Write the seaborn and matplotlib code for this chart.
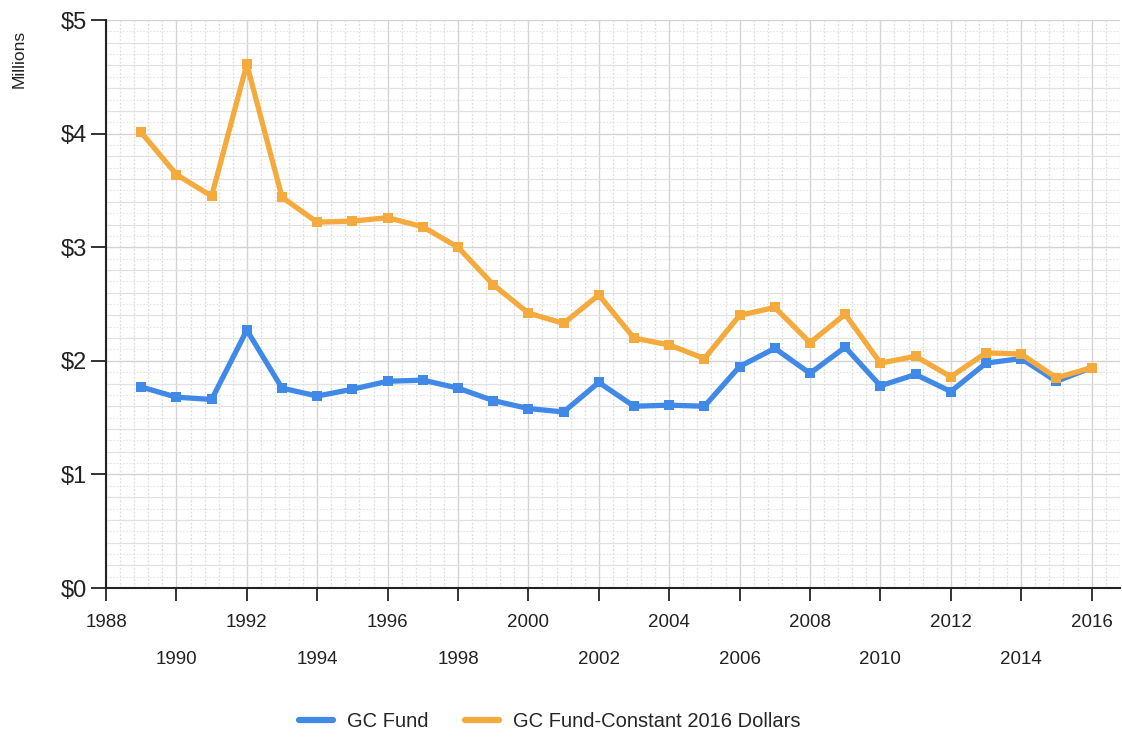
import matplotlib
matplotlib.use("Agg")
import matplotlib.pyplot as plt
from matplotlib.ticker import MultipleLocator, FuncFormatter
import numpy as np
import pandas as pd
import seaborn as sns

years = list(range(1989, 2017))
gc_fund = [1.77, 1.68, 1.66, 2.27, 1.76, 1.69, 1.75, 1.82, 1.83, 1.76,
           1.65, 1.58, 1.55, 1.81, 1.60, 1.61, 1.60, 1.95, 2.11, 1.89,
           2.12, 1.78, 1.88, 1.73, 1.98, 2.02, 1.82, 1.94]
gc_constant = [4.01, 3.64, 3.45, 4.61, 3.44, 3.22, 3.23, 3.26, 3.18, 3.00,
               2.67, 2.42, 2.33, 2.58, 2.20, 2.14, 2.02, 2.40, 2.47, 2.16,
               2.41, 1.98, 2.04, 1.86, 2.07, 2.06, 1.85, 1.94]
series_names = ["GC Fund", "GC Fund-Constant 2016 Dollars"]
colors = ["#4189E6", "#F4AA3C"]

df = pd.DataFrame({
    "Year": years * 2,
    "Value": gc_fund + gc_constant,
    "Series": [series_names[0]] * len(years) + [series_names[1]] * len(years),
})

sns.set_style("white")
plt.rcParams['font.family'] = ['Liberation Sans', 'DejaVu Sans']

fig = plt.figure(figsize=(11.22, 7.42), dpi=100)
ax = fig.add_axes([0.0945, 0.2075, 0.9035, 0.7655])

sns.lineplot(data=df, x="Year", y="Value", hue="Series", palette=colors,
             marker="s", markersize=7, markeredgewidth=0, linewidth=3.8,
             ax=ax, legend=False)

ax.set_xlim(1988, 2016.8)
ax.set_ylim(0, 5)

# grid
ax.xaxis.set_major_locator(MultipleLocator(2))
ax.xaxis.set_minor_locator(MultipleLocator(0.4))
ax.yaxis.set_major_locator(MultipleLocator(1))
ax.yaxis.set_minor_locator(MultipleLocator(0.2))
ax.grid(which="major", color="#d4d4d4", linewidth=1.0, linestyle="-")
ax.grid(which="minor", axis="y", color="#e2e2e2", linewidth=0.9, linestyle="-")
ax.grid(which="minor", axis="x", color="#dddddd", linewidth=0.9, linestyle=(0, (1.5, 1.5)))
for yv in np.arange(0.1, 5, 0.2):
    ax.axhline(yv, color="#e6e6e6", linewidth=0.8, linestyle=(0, (1.5, 1.5)), zorder=0)
ax.set_axisbelow(True)

ax.yaxis.set_major_formatter(FuncFormatter(lambda v, p: "${:d}".format(int(round(v)))))
ax.tick_params(axis="y", which="major", left=True, length=11, width=1.3,
               labelsize=17, colors="#222222", pad=3)
ax.tick_params(axis="x", which="major", bottom=True, length=9, width=1.3,
               labelsize=13.5, colors="#222222", pad=10)
ax.tick_params(which="minor", length=0)

ticks = list(range(1988, 2017, 2))
ax.set_xticks(ticks)
ax.set_xticklabels([str(t) for t in ticks])
for i, tick in enumerate(ax.xaxis.get_major_ticks()):
    if i % 2 == 1:
        tick.set_pad(36)

for side in ["top", "right"]:
    ax.spines[side].set_visible(False)
for side in ["left", "bottom"]:
    ax.spines[side].set_color("#222222")
    ax.spines[side].set_linewidth(1.5)

ax.set_xlabel("")
ax.set_ylabel("")
fig.text(0.017, 0.921, "Millions", rotation=90, ha="center", va="center",
         fontsize=12.5, color="#222222")

handles = [plt.Line2D([], [], color=c, linewidth=4.5) for c in colors]
fig.legend(handles, series_names, loc="center", bbox_to_anchor=(0.49, 0.027),
           ncol=2, frameon=False, fontsize=14.5, handlelength=1.7,
           columnspacing=1.8, handletextpad=0.7)

fig.savefig("out.png", dpi=100)
